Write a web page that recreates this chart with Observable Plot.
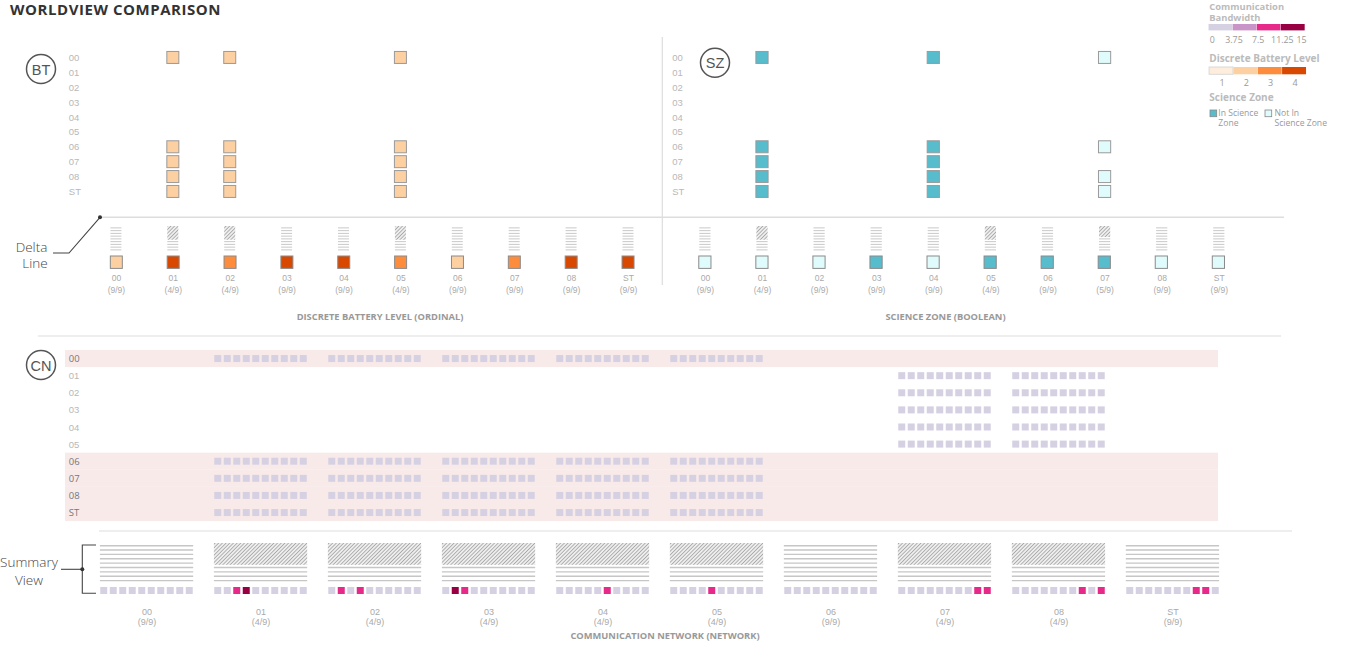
<!DOCTYPE html>
<html><head><meta charset="utf-8">
<script src="https://cdn.jsdelivr.net/npm/d3@7"></script>
<script src="https://cdn.jsdelivr.net/npm/@observablehq/plot@0.6"></script>
<style>
html,body{margin:0;padding:0;background:#fff;}
#root{position:relative;width:1349px;height:645px;overflow:hidden;font-family:"Open Sans",sans-serif;}
#root svg{position:absolute;left:0;overflow:visible;max-width:none;}
</style></head><body><div id="root"></div>
<script>
// ---------- data ----------
const agents = ["00","01","02","03","04","05","06","07","08","ST"];

// Discrete battery level (ordinal)
const batteryLevels = [1, 2, 3, 4];
const batteryColors = ["#feeddc", "#fdd0a2", "#fd8d3c", "#d94801"];
const batteryTruth = [2, 4, 3, 4, 4, 3, 2, 3, 4, 4];
const batteryAgree = [9, 4, 4, 9, 9, 4, 9, 9, 9, 9];
// [about agent, believed by agent, level]
const batteryBeliefs = [
  ["01","00",2],["01","06",2],["01","07",2],["01","08",2],["01","ST",2],
  ["02","00",2],["02","06",2],["02","07",2],["02","08",2],["02","ST",2],
  ["05","00",2],["05","06",2],["05","07",2],["05","08",2],["05","ST",2]
];

// Science zone (boolean)
const scienceValues = [0, 1];
const scienceColors = ["#e0fbfb", "#57bccb"];
const scienceTruth = [0, 0, 0, 1, 0, 1, 1, 1, 0, 0];
const scienceAgree = [9, 4, 9, 9, 9, 4, 9, 5, 9, 9];
const scienceBeliefs = [
  ["01","00",1],["01","06",1],["01","07",1],["01","08",1],["01","ST",1],
  ["04","00",1],["04","06",1],["04","07",1],["04","08",1],["04","ST",1],
  ["07","00",0],["07","06",0],["07","08",0],["07","ST",0]
];

// Communication network
const bandwidthTicks = [0, 3.75, 7.5, 11.25, 15];
const bandwidthThresholds = [3.75, 7.5, 11.25];
const bandwidthColors = ["#d6d1e2", "#c994c7", "#e7298a", "#980043"];
const networkAgree = [9, 4, 4, 4, 4, 4, 9, 4, 4, 9];
const networkHighlightRows = ["00","06","07","08","ST"];
// [about agent, believed by agent]
const networkBeliefs = [
  ["01","00"],["01","06"],["01","07"],["01","08"],["01","ST"],
  ["02","00"],["02","06"],["02","07"],["02","08"],["02","ST"],
  ["03","00"],["03","06"],["03","07"],["03","08"],["03","ST"],
  ["04","00"],["04","06"],["04","07"],["04","08"],["04","ST"],
  ["05","00"],["05","06"],["05","07"],["05","08"],["05","ST"],
  ["07","01"],["07","02"],["07","03"],["07","04"],["07","05"],
  ["08","01"],["08","02"],["08","03"],["08","04"],["08","05"]
];
// every believed link reads in the lowest bandwidth bin
const networkBeliefBandwidth = [2, 2, 2, 2, 2, 2, 2, 2, 2, 2];
const networkSummary = [
  [2,2,2,2,2,2,2,2,2,2],
  [2,2,9,13,2,2,2,2,2,2],
  [2,9,2,9,2,2,2,2,2,2],
  [2,13,9,2,2,2,2,2,2,2],
  [2,2,2,2,2,9,2,2,2,2],
  [2,2,2,2,9,2,2,2,2,2],
  [2,2,2,2,2,2,2,2,2,2],
  [2,2,2,2,2,2,2,2,9,9],
  [2,2,2,2,2,2,2,9,2,9],
  [2,2,2,2,2,2,2,9,9,2]
];

// ---------- helpers ----------
const W = 1349;
const root = document.getElementById("root");
function frame(height, opts) {
  return Plot.plot(Object.assign({width: W, height, marginTop: 0, marginRight: 0, marginBottom: 0, marginLeft: 0,
    style: {background: "transparent", overflow: "visible"}}, opts));
}
function place(svg, top) { svg.style.position = "absolute"; svg.style.left = "0px"; svg.style.top = top + "px"; root.appendChild(svg); }

root.insertAdjacentHTML("beforeend", `<svg width="0" height="0" style="position:absolute"><defs>
<pattern id="hatch" patternUnits="userSpaceOnUse" width="2.6" height="2.6" patternTransform="rotate(45)">
<rect width="2.6" height="2.6" fill="#fff"/><line x1="1.3" y1="0" x2="1.3" y2="2.6" stroke="#a9a9a9" stroke-width="1.2"/></pattern></defs></svg>`);

const labelFont = "Liberation Sans, Arial, sans-serif";
const band = (domain, range, extra) => Object.assign({type: "band", domain, range, padding: 0, round: false, axis: null}, extra);
const btX = band(agents, [87.45, 656.45]);
const szX = band(agents, [676.35, 1247.35]);
const gridY = band(agents, [0, 148.9]);
const batteryScale = {type: "ordinal", domain: batteryLevels, range: batteryColors};
const scienceScale = {type: "ordinal", domain: scienceValues, range: scienceColors};
const bandwidthScale = {type: "threshold", domain: bandwidthThresholds, range: bandwidthColors};

const glyphLines = (agree) => agents.flatMap((a, i) => d3.range(9 - agree[i], 9).map(s => ({agent: a, slot: s})));
const glyphHatch = (agree) => agents.map((a, i) => ({agent: a, n: 9 - agree[i]})).filter(d => d.n > 0);

// ---------- top panels: BT and SZ ----------
function panel(xScale, colorScale, beliefs, truth, agree, labelDx) {
  place(frame(148.9, {x: xScale, y: gridY, color: colorScale, marks: [
    Plot.text(agents, {y: d => d, text: d => d, frameAnchor: "left", textAnchor: "start", dx: labelDx,
      fill: "#b8b8b8", fontSize: 9.5, fontFamily: labelFont}),
    Plot.cell(beliefs, {x: d => d[0], y: d => d[1], fill: d => d[2], stroke: "#9a9a9a", strokeWidth: 1,
      insetLeft: 22.45, insetRight: 22.45, insetTop: 1.45, insetBottom: 1.45})
  ]}), 50.05);
  place(frame(24.75, {x: xScale, y: {type: "linear", domain: [0, 9], range: [0, 24.75], axis: null}, marks: [
    Plot.barY(glyphHatch(agree), {x: "agent", y1: 0, y2: "n", fill: "url(#hatch)", insetLeft: 22.95, insetRight: 22.95}),
    Plot.tickY(glyphLines(agree), {x: "agent", y: d => d.slot + 0.5, stroke: "#c8c8c8", strokeWidth: 1, insetLeft: 22.95, insetRight: 22.95})
  ]}), 226);
  place(frame(12.4, {x: xScale, color: colorScale, marks: [
    Plot.cell(agents, {x: d => d, fill: (d, i) => truth[i], stroke: "#8a8a8a", strokeWidth: 1, insetLeft: 22.45, insetRight: 22.45})
  ]}), 255.8);
  place(frame(26, {x: xScale, marks: [
    Plot.text(agents, {x: d => d, text: (d, i) => `${d}\n(${agree[i]}/9)`, frameAnchor: "top", lineAnchor: "top",
      lineHeight: 1.41, fontSize: 8.5, fill: "#aaa", fontFamily: labelFont})
  ]}), 271.8);
}
panel(btX, batteryScale, batteryBeliefs, batteryTruth, batteryAgree, 68.3);
panel(szX, scienceScale, scienceBeliefs, scienceTruth, scienceAgree, 671.7);

// ---------- communication network grid ----------
const slotX = band(d3.range(120), [89.5, 1229.5], {padding: undefined, paddingInner: 0.263, paddingOuter: 0.1315});
const slot = (agent, k) => agents.indexOf(agent) * 12 + 1 + k;
const cnY = band(agents, [0, 171.1]);
const networkCells = networkBeliefs.flatMap(([about, by]) => networkBeliefBandwidth.map((v, k) => ({x: slot(about, k), row: by, v})));
place(frame(171.1, {marginLeft: 65, marginRight: 131, x: slotX, y: cnY, color: bandwidthScale, marks: [
  Plot.cell(networkHighlightRows, {y: d => d, fill: "#f9eaea"}),
  Plot.text(agents.filter(a => networkHighlightRows.includes(a)), {y: d => d, text: d => d, frameAnchor: "left", textAnchor: "start", dx: 3.3,
    fill: "#777", fontSize: 9.5, fontFamily: "Open Sans"}),
  Plot.text(agents.filter(a => !networkHighlightRows.includes(a)), {y: d => d, text: d => d, frameAnchor: "left", textAnchor: "start", dx: 3.3,
    fill: "#b8b8b8", fontSize: 9.5, fontFamily: labelFont}),
  Plot.cell(networkCells, {x: "x", y: "row", fill: "v", insetTop: 5.05, insetBottom: 5.05})
]}), 349.9);

// ---------- summary view ----------
const sumX = band(agents, [89.5, 1229.5]);
place(frame(39.3, {x: sumX, y: {type: "linear", domain: [0, 9], range: [0, 39.3], axis: null}, marks: [
  Plot.barY(glyphHatch(networkAgree), {x: "agent", y1: 0, y2: "n", fill: "url(#hatch)", insetLeft: 10.35, insetRight: 10.35}),
  Plot.tickY(glyphLines(networkAgree), {x: "agent", y: d => d.slot + 0.5, stroke: "#c6c6c6", strokeWidth: 1.4, insetLeft: 10.35, insetRight: 10.35})
]}), 542.8);
const summaryCells = agents.flatMap((a, i) => networkSummary[i].map((v, k) => ({x: slot(a, k), v})));
place(frame(7, {x: slotX, color: bandwidthScale, marks: [
  Plot.cell(summaryCells, {x: "x", fill: "v"})
]}), 587.3);
place(frame(22, {x: sumX, marks: [
  Plot.text(agents, {x: d => d, text: (d, i) => `${d}\n(${networkAgree[i]}/9)`, frameAnchor: "top", lineAnchor: "top",
    lineHeight: 1.12, fontSize: 9, fill: "#aaa", fontFamily: labelFont})
]}), 606.6);

// ---------- legends ----------
const bwX = {type: "linear", domain: [0, 15], range: [1209.3, 1306], axis: null};
place(frame(6.4, {x: bwX, color: bandwidthScale, marks: [
  Plot.barX(d3.pairs(bandwidthTicks), {x1: d => d[0], x2: d => d[1], fill: d => d[0], insetRight: 0.4})
]}), 24.3);
const tickStyle = {frameAnchor: "bottom", lineAnchor: "bottom", fontSize: 8.8, fill: "#999", fontFamily: "Open Sans"};
place(frame(12, {x: bwX, marks: [
  Plot.text(bandwidthTicks.slice(0, 1), {x: d => d, text: d => String(d), textAnchor: "start", ...tickStyle}),
  Plot.text(bandwidthTicks.slice(1, -1), {x: d => d, text: d => String(d), textAnchor: "middle", ...tickStyle}),
  Plot.text(bandwidthTicks.slice(-1), {x: d => d, text: d => String(d), textAnchor: "end", ...tickStyle})
]}), 30.3);
const blX = band(batteryLevels, [1209.3, 1306.7]);
place(frame(7.3, {x: blX, color: batteryScale, marks: [
  Plot.cell(batteryLevels, {x: d => d, fill: d => d, stroke: (d) => d === 1 ? "#d9d9d9" : "none", insetRight: 0.4})
]}), 66.7);
place(frame(12, {x: blX, marks: [
  Plot.text(batteryLevels, {x: d => d, text: d => String(d), ...tickStyle, fontSize: 9})
]}), 73);

// ---------- annotations & titles ----------
root.insertAdjacentHTML("beforeend", `<svg width="1349" height="645" style="position:absolute;left:0;top:0;overflow:visible" font-family="Open Sans">
<text x="10" y="14.5" font-size="15" letter-spacing="0.55" font-weight="700" fill="#333">WORLDVIEW COMPARISON</text>
<g fill="none" stroke="#555" stroke-width="1.5">
<circle cx="41" cy="69" r="14.5"/><circle cx="715" cy="62.8" r="14.5"/><circle cx="41" cy="365" r="14.5"/></g>
<g font-family="Liberation Sans, Arial" font-size="14.5" fill="#555" text-anchor="middle" dominant-baseline="central">
<text x="41" y="69.5">BT</text><text x="715" y="63.3">SZ</text><text x="41" y="365.5">CN</text></g>
<line x1="662.3" y1="37" x2="662.3" y2="285" stroke="#ddd" stroke-width="1.2"/>
<line x1="100" y1="217.3" x2="1284" y2="217.3" stroke="#ddd" stroke-width="1.5"/>
<line x1="38" y1="336" x2="1281" y2="336" stroke="#ddd" stroke-width="1.2"/>
<line x1="99" y1="531" x2="1292" y2="531" stroke="#ddd" stroke-width="1.2"/>
<g stroke="#444" stroke-width="1.1" fill="none">
<polyline points="53,253 69,253 100,217.3"/>
<polyline points="61,569.3 82.3,569.3"/><polyline points="96,545 82.3,545 82.3,593.3 96,593.3"/></g>
<circle cx="100" cy="217.3" r="2" fill="#333"/><circle cx="82.3" cy="569.3" r="2" fill="#333"/>
<g font-size="13.5" font-weight="300" fill="#444" text-anchor="middle">
<text x="31.5" y="251.5">Delta</text><text x="35" y="268">Line</text>
<text x="29" y="566.5">Summary</text><text x="29" y="585">View</text></g>
<g font-size="9.3" font-weight="700" fill="#999" text-anchor="middle">
<text x="380" y="320">DISCRETE BATTERY LEVEL (ORDINAL)</text>
<text x="945.5" y="320">SCIENCE ZONE (BOOLEAN)</text>
<text x="665" y="638.5">COMMUNICATION NETWORK (NETWORK)</text></g>
<g font-size="9.4" font-weight="700" fill="#bbb">
<text x="1209.3" y="10.2">Communication</text><text x="1209.3" y="21">Bandwidth</text></g>
<g font-size="10" font-weight="700" fill="#bbb">
<text x="1209.3" y="62.3">Discrete Battery Level</text><text x="1209.3" y="101">Science Zone</text></g>
<rect x="1210" y="110" width="6.7" height="6.7" fill="#57bccb" stroke="#888" stroke-width="0.8"/>
<rect x="1265" y="110" width="6.7" height="6.7" fill="#e0fbfb" stroke="#888" stroke-width="0.8"/>
<g font-size="8.6" fill="#999">
<text x="1218.3" y="115.7">In Science</text><text x="1218.3" y="125.7">Zone</text>
<text x="1274.5" y="115.7">Not In</text><text x="1274.5" y="125.7">Science Zone</text></g>
</svg>`);
</script></body></html>
